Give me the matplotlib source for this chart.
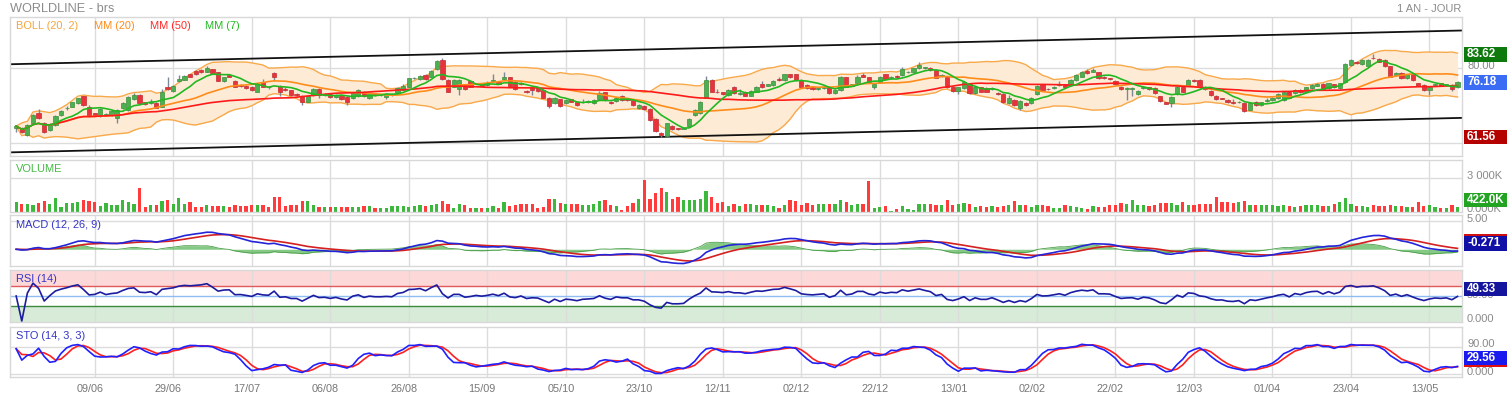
import numpy as np
import pandas as pd
import matplotlib
matplotlib.use("Agg")
import matplotlib.pyplot as plt
from matplotlib.patches import Rectangle

plt.rcParams['font.family'] = ['Liberation Sans', 'DejaVu Sans']

# ---------------- data ----------------
opens = [63.9,63.9,62.1,65.2,67.9,65.2,63.5,64.8,67.5,69.2,
 69.7,70.6,72.4,69.7,67.9,67.3,67.5,67.5,66.6,69.2,
 68.8,71.6,72.8,70.8,70.7,70.7,69.7,74.8,73.9,76.4,
 76.9,78.3,79.2,79.4,79.0,79.6,78.8,76.4,78.1,76.5,
 75.5,75.3,74.9,73.7,76.2,75.0,78.6,75.3,74.3,74.0,
 73.1,72.6,71.0,72.8,74.3,72.7,73.0,72.3,72.4,72.2,
 71.9,72.4,73.7,71.9,72.9,72.7,72.2,72.7,73.2,74.1,
 75.0,77.2,77.0,78.1,77.7,79.7,82.1,76.8,75.0,74.4,
 75.6,76.5,75.8,75.6,75.5,76.4,76.2,77.0,77.5,76.2,
 76.1,73.9,74.6,74.6,74.1,72.1,70.6,71.6,70.6,71.6,
 71.0,70.9,70.8,70.6,71.7,73.5,71.0,71.2,72.4,71.9,
 71.5,69.2,69.9,69.0,66.4,62.7,61.9,64.6,63.9,63.8,
 64.4,67.5,67.9,72.1,76.8,73.7,73.5,72.8,75.0,73.0,
 73.7,72.6,73.7,75.6,75.3,75.5,77.1,76.7,78.3,78.3,
 76.8,75.5,74.8,74.4,74.6,74.8,73.2,74.1,77.5,75.3,
 75.9,78.1,77.5,74.8,76.2,78.3,77.2,77.9,78.1,78.8,
 79.0,79.9,80.0,80.1,79.5,77.9,77.7,75.0,73.9,74.6,
 75.6,73.2,74.8,74.6,74.4,73.4,73.0,70.6,71.5,69.4,
 70.6,70.6,73.0,75.6,74.4,74.7,75.5,75.6,75.5,76.8,
 77.7,79.2,79.0,78.8,77.6,77.2,76.5,75.0,74.4,74.3,
 73.0,74.6,74.8,74.6,72.4,70.8,70.6,73.0,75.0,75.3,
 76.8,76.8,75.0,73.9,72.5,71.9,71.5,70.8,70.8,70.6,
 68.9,71.0,70.1,71.2,71.5,71.9,71.5,73.7,73.2,74.1,
 73.7,74.6,75.3,75.7,74.6,75.6,74.6,76.2,80.8,81.5,
 81.0,80.6,82.7,82.4,82.1,80.4,78.1,78.6,77.2,78.3,
 75.9,75.5,74.1,75.4,75.9,75.4,75.5,74.9]

closes = [64.5,62.8,64.8,67.5,66.6,62.8,64.8,67.2,68.4,69.4,
 70.8,71.9,70.0,67.2,67.5,69.1,67.7,68.4,68.8,70.6,
 72.3,72.8,70.6,70.4,71.0,69.4,73.7,74.5,75.2,77.0,
 77.9,77.7,78.3,78.8,80.1,78.6,76.6,77.5,77.7,75.0,
 75.1,74.6,74.0,75.6,75.0,74.8,77.5,73.7,74.0,72.8,
 72.8,70.8,72.5,74.4,72.8,73.0,72.2,72.8,71.7,71.0,
 73.2,74.1,72.4,73.2,72.8,72.8,73.0,72.8,74.6,75.2,
 77.2,77.4,77.9,77.0,79.3,81.9,77.1,73.7,76.8,76.8,
 74.4,75.0,75.9,75.3,75.9,76.8,75.8,77.7,75.0,74.4,
 75.6,73.6,74.1,73.9,72.1,69.9,72.1,69.9,71.5,71.0,
 70.1,71.0,71.2,71.5,73.2,71.5,70.6,72.1,71.5,71.5,
 70.1,70.1,69.1,66.1,63.2,62.1,65.2,63.7,63.7,63.9,
 66.4,68.8,71.0,76.8,73.7,73.5,73.1,74.1,73.2,73.2,
 72.6,73.9,75.0,74.8,75.6,76.5,76.7,78.3,77.6,76.8,
 75.0,74.6,74.4,74.7,75.0,73.2,74.1,77.7,75.0,75.6,
 77.7,77.7,76.2,75.6,77.7,77.0,77.7,77.5,79.7,79.0,
 79.9,80.8,80.1,79.5,77.4,78.1,74.8,73.9,74.8,76.2,
 73.2,75.0,73.7,73.7,74.7,73.0,70.8,71.9,70.1,71.2,
 70.1,72.1,75.3,74.1,74.3,75.0,75.8,74.8,76.8,78.1,
 79.0,78.6,79.5,77.2,77.2,77.0,75.6,74.3,74.6,74.7,
 73.8,74.8,74.4,73.2,71.2,70.5,72.3,75.0,73.7,76.8,
 76.4,74.8,74.3,72.8,71.7,71.8,70.8,70.6,71.0,68.6,
 70.6,70.1,70.8,71.5,72.1,73.0,73.5,72.1,74.1,73.5,
 74.8,75.5,75.7,74.4,75.9,74.8,75.9,81.0,82.1,81.3,
 82.1,82.1,82.6,81.7,80.4,77.7,78.6,77.2,78.3,76.8,
 75.3,74.1,75.0,75.6,75.3,75.6,74.4,76.18]

highs = [64.8,64.2,65.0,67.7,69.1,65.5,65.3,67.5,68.8,69.8,
 71.0,72.1,72.6,70.0,68.1,69.3,68.0,68.8,69.0,70.8,
 72.5,73.2,73.0,71.0,71.8,71.0,74.3,77.5,75.5,78.2,
 78.2,78.5,79.4,79.8,80.6,79.8,79.0,77.7,78.3,76.8,
 75.7,75.5,75.1,75.8,77.0,75.2,79.0,75.5,74.8,74.2,
 73.3,72.8,72.7,74.6,74.6,73.2,73.2,73.0,72.6,72.4,
 73.4,74.3,73.9,73.4,73.2,73.0,73.2,73.0,74.8,75.8,
 77.4,77.7,78.1,78.3,79.5,82.1,82.6,77.0,77.0,77.0,
 75.8,76.7,76.1,75.8,76.5,78.5,76.4,79.0,77.7,76.4,
 76.3,74.1,74.8,74.8,74.3,72.3,72.3,71.8,71.7,71.8,
 71.2,71.8,71.4,71.7,73.8,73.7,71.2,72.3,72.8,72.1,
 71.7,70.3,70.1,69.2,66.6,62.9,65.4,64.8,64.1,64.1,
 66.6,69.0,71.2,77.8,77.0,74.3,73.7,74.3,75.2,74.5,
 73.9,74.1,75.2,76.5,75.8,76.7,77.7,78.5,78.5,78.5,
 77.0,75.7,75.0,74.9,75.2,75.0,74.3,77.9,77.7,75.8,
 78.1,78.7,77.7,75.8,77.9,78.5,77.9,78.1,80.2,79.2,
 80.1,81.7,80.3,80.3,79.7,78.3,77.9,75.2,75.0,76.4,
 75.8,75.2,75.0,74.8,74.9,73.6,73.2,72.9,71.7,71.4,
 70.8,72.3,75.5,75.8,74.6,75.2,76.5,75.8,77.0,78.3,
 79.2,79.6,80.0,79.0,77.8,77.4,76.7,75.2,74.8,74.9,
 74.0,75.2,75.0,74.8,72.6,71.0,72.5,75.2,75.2,77.0,
 77.0,77.0,75.2,74.1,72.7,72.1,71.7,71.8,71.2,70.8,
 70.8,71.2,71.0,72.0,72.3,73.2,73.7,73.9,74.3,74.3,
 75.0,75.7,76.0,75.9,76.1,75.8,76.1,81.2,82.4,81.8,
 82.3,82.3,83.62,82.6,82.3,80.6,78.8,78.8,78.5,78.5,
 76.1,75.7,75.2,75.8,76.1,75.8,75.7,76.4]

lows = [63.0,62.6,61.9,65.0,66.4,62.6,63.2,64.5,67.3,68.8,
 69.5,70.4,69.8,67.0,67.2,67.0,67.3,67.3,65.3,69.0,
 68.6,71.4,70.4,70.2,70.5,69.2,69.5,74.0,73.7,76.2,
 76.7,77.5,78.1,78.6,78.8,78.4,76.4,76.2,77.5,74.8,
 74.9,74.4,73.8,73.5,74.8,74.5,76.5,72.5,73.8,72.6,
 72.6,70.0,70.8,72.6,72.0,72.5,72.0,72.1,71.5,70.2,
 71.7,72.2,72.2,71.7,72.6,72.5,71.6,72.5,73.0,74.0,
 74.8,77.0,76.8,76.8,77.5,79.5,76.9,73.5,74.8,72.8,
 74.2,74.8,75.6,75.1,75.3,76.2,75.6,76.8,74.8,74.2,
 75.4,73.4,72.8,73.7,71.9,69.3,70.4,69.7,70.4,70.8,
 69.9,70.7,70.6,70.4,71.5,71.3,70.4,71.0,71.3,71.3,
 69.9,69.0,68.9,65.9,63.0,61.56,61.7,63.5,63.5,63.6,
 64.2,67.3,67.7,71.9,73.5,73.3,72.9,72.6,73.0,72.8,
 72.4,72.4,73.5,74.6,75.1,75.3,76.5,76.5,77.4,76.6,
 74.8,74.4,74.2,74.2,74.4,73.0,73.0,73.9,74.8,75.1,
 75.7,77.5,76.0,74.3,76.0,76.8,77.0,77.3,77.9,78.6,
 78.8,79.7,79.8,79.3,77.2,77.7,74.6,73.7,73.0,74.4,
 73.0,73.0,73.5,73.5,74.2,72.8,70.6,70.4,69.9,68.8,
 69.9,70.4,72.8,73.9,74.1,74.5,75.3,74.6,75.3,76.6,
 77.5,78.4,78.8,77.0,77.0,76.8,75.4,74.1,71.5,72.5,
 72.8,74.4,74.2,73.0,71.0,70.3,69.6,72.8,73.5,75.1,
 76.2,74.6,74.1,72.6,71.5,71.6,70.6,70.4,70.6,68.3,
 68.7,69.9,69.9,71.0,71.3,71.7,71.3,71.9,73.0,73.3,
 73.5,74.4,75.1,74.2,74.4,74.6,74.4,76.0,80.6,81.0,
 80.8,80.4,82.3,81.5,80.2,77.5,77.9,77.0,77.0,76.6,
 75.1,73.9,72.8,75.2,75.1,75.2,73.9,74.7]

volumes_k = [900,750,750,600,810,960,750,1260,450,810,
 810,900,1050,990,900,540,810,660,600,1050,
 900,750,2100,450,660,660,990,1110,750,1260,
 750,900,450,450,600,510,510,540,450,600,
 540,510,600,600,600,450,1350,1350,540,660,
 600,960,960,600,450,450,450,450,450,450,
 450,450,540,510,360,360,360,510,540,510,
 450,510,600,510,660,750,990,690,390,690,
 600,390,360,360,360,540,390,
 900,540,660,690,690,690,360,450,1200,1140,
 840,690,750,750,600,600,690,960,1050,600,
 510,210,510,810,1200,2850,1140,1650,2160,1740,
 1140,1350,1050,1110,1050,1200,1860,1350,840,900,
 540,690,540,750,690,660,660,660,540,360,
 660,1050,990,660,810,600,750,690,690,690,
 1110,900,660,750,750,2760,390,450,510,60,
 300,510,300,150,750,750,750,600,600,1050,
 600,750,840,690,450,510,450,510,450,
 540,600,960,600,600,450,660,600,540,
 390,390,600,510,450,390,300,510,450,450,
 600,660,840,750,1050,660,600,540,600,840,
 840,840,660,900,660,600,750,690,750,1320,
 900,900,840,900,960,600,600,660,600,660,
 540,600,540,450,540,600,600,660,540,540,
 750,900,1260,750,540,540,450,600,540,540,
 600,540,540,450,450,900,540,660,450,390,
 390,600,422]

date_labels = ["09/06", "29/06", "17/07", "06/08", "26/08", "15/09", "05/10",
               "23/10", "12/11", "02/12", "22/12", "13/01", "02/02", "22/02",
               "12/03", "01/04", "23/04", "13/05"]
channel_upper = [81.0, 90.0]   # price at left / right edge
channel_lower = [57.5, 66.7]
last_macd = -0.271
last_rsi = 49.33
last_sto = 29.56

assert len(opens) == len(closes) == len(highs) == len(lows) == len(volumes_k), \
    (len(opens), len(closes), len(highs), len(lows), len(volumes_k))

# ---------------- indicators ----------------
n = len(closes)
x = np.arange(n)
o = np.array(opens); c = np.array(closes); h = np.array(highs); l = np.array(lows)
cs = pd.Series(c)
mm7 = cs.rolling(7, min_periods=1).mean()
mm20 = cs.rolling(20, min_periods=1).mean()
mm50 = cs.rolling(50, min_periods=1).mean()
sd20 = cs.rolling(20, min_periods=1).std(ddof=0).fillna(0)
bb_up = mm20 + 2 * sd20
bb_lo = mm20 - 2 * sd20
ema12 = cs.ewm(span=12, adjust=False).mean()
ema26 = cs.ewm(span=26, adjust=False).mean()
macd = ema12 - ema26
signal = macd.ewm(span=9, adjust=False).mean()
hist = macd - signal
delta = cs.diff()
gain = delta.clip(lower=0)
loss = (-delta).clip(lower=0)
ag = gain.ewm(alpha=1/14, adjust=True).mean()
al = loss.ewm(alpha=1/14, adjust=True).mean()
rsi = (100 * ag / (ag + al)).fillna(50)
hh = pd.Series(h).rolling(14, min_periods=1).max()
ll = pd.Series(l).rolling(14, min_periods=1).min()
rawk = 100 * (cs - ll) / (hh - ll)
stok = rawk.rolling(3, min_periods=1).mean()
stod = stok.rolling(3, min_periods=1).mean()

# ---------------- layout ----------------
W, H = 1507, 398
fig = plt.figure(figsize=(W / 100, H / 100), dpi=100)
fig.patch.set_facecolor('white')
XL = (-1.1, 257.8)
grid_c = '#dcdcdc'
tick_pos = [14 + 14 * k for k in range(len(date_labels))]


def add_panel(ytop, ybot, ylim):
    ax = fig.add_axes([10 / W, 1 - ybot / H, 1452 / W, (ybot - ytop) / H])
    ax.set_xlim(*XL)
    ax.set_ylim(*ylim)
    ax.set_xticks([]); ax.set_yticks([])
    for s in ax.spines.values():
        s.set_color('#d8d8d8'); s.set_linewidth(1)
    for t in tick_pos:
        ax.axvline(t, color=grid_c, lw=1, zorder=0.5)
    return ax


def fy(ax, v):
    return fig.transFigure.inverted().transform(ax.transData.transform((0, v)))[1]


def gray_label(ax, v, txt, dy=2.3):
    fig.text(1467 / W, fy(ax, v) + dy / H, txt, color='#8a8a8a', fontsize=8.0,
             va='center', ha='left', zorder=1)


def box_label(ax, v, txt, color, mode='center', line=None, hpx=14.5):
    yv = fy(ax, v)
    if mode == 'center':
        y0 = yv - hpx / 2 / H
    else:
        y0 = yv
    fig.patches.append(Rectangle((1464 / W, y0), 43 / W, hpx / H, transform=fig.transFigure,
                                 facecolor=color, edgecolor='none', zorder=5))
    if line == 'top':
        fig.patches.append(Rectangle((1464 / W, y0 + hpx / H), 43 / W, 2.2 / H,
                                     transform=fig.transFigure, facecolor='#d01010',
                                     edgecolor='none', zorder=5))
    elif line == 'bottom':
        fig.patches.append(Rectangle((1464 / W, y0 - 1.8 / H), 43 / W, 1.8 / H,
                                     transform=fig.transFigure, facecolor='#e01010',
                                     edgecolor='none', zorder=5))
    fig.text(1467 / W, y0 + hpx / 2 / H, txt, color='white', fontsize=8.4, fontweight='bold',
             va='center', ha='left', zorder=6)


# ---- price panel ----
axp = add_panel(17, 156, (56.53, 93.6))
for gv in (60, 80):
    axp.axhline(gv, color=grid_c, lw=1, zorder=0.5)
axp.fill_between(x, bb_lo, bb_up, color='#fdebd6', lw=0, zorder=1)
axp.plot(x, bb_up, color='#f8a94a', lw=1.0, zorder=2)
axp.plot(x, bb_lo, color='#f8a94a', lw=1.0, zorder=2)
axp.plot(XL, channel_upper, color='#111111', lw=1.3, zorder=2.5)
axp.plot(XL, channel_lower, color='#111111', lw=1.3, zorder=2.5)
up_mask = c >= o
cols = np.where(up_mask, '#4caf50', '#e8323c')
edges = np.where(up_mask, '#3b8f3e', '#c42a31')
axp.vlines(x, l, h, color='#7d8799', lw=1.0, zorder=3)
body_bot = np.minimum(o, c)
body_h = np.maximum(np.abs(c - o), 0.15)
axp.bar(x, body_h, bottom=body_bot, width=0.75, color=cols, edgecolor=edges, lw=0.5, zorder=3.5)
axp.plot(x, mm20, color='#ff8c1a', lw=1.2, zorder=4)
axp.plot(x, mm50, color='#ff1a1a', lw=1.2, zorder=4)
axp.plot(x, mm7, color='#22b822', lw=1.2, zorder=4)

leg = [("BOLL (20, 2)", '#f5a53c', 15.5), ("MM (20)", '#ff8c1a', 94), ("MM (50)", '#ff2a2a', 149.5),
       ("MM (7)", '#22bb22', 205)]
for txt, col, px in leg:
    fig.text(px / W, 1 - 25.7 / H, txt, color=col, fontsize=7.9, va='center', ha='left')

fig.text(10 / W, 1 - 9 / H, "WORLDLINE - brs", color='#8c8c8c', fontsize=9.2, va='center', ha='left')
fig.text(1461 / W, 1 - 9 / H, "1 AN - JOUR", color='#8c8c8c', fontsize=8.0, va='center', ha='right')

gray_label(axp, 80, "80.00")
box_label(axp, max(highs), f"{max(highs):.2f}", '#0e7a0e')
box_label(axp, closes[-1], f"{closes[-1]:.2f}", '#3b6cf4')
box_label(axp, min(lows), f"{min(lows):.2f}", '#b50000')

# ---- volume panel ----
axv = add_panel(160, 212, (0, 4630))
axv.axhline(3000, color=grid_c, lw=1, zorder=0.5)
vcols = np.where(up_mask, '#3cb83c', '#ff3b3b')
axv.bar(x, volumes_k, width=0.58, color=vcols, lw=0, zorder=2)
fig.text(15.5 / W, 1 - 169 / H, "VOLUME", color='#44bb44', fontsize=7.9, va='center', ha='left')
gray_label(axv, 3000, "3 000K")
gray_label(axv, 0, "0.000K", dy=3.3)
box_label(axv, volumes_k[-1], f"{volumes_k[-1]:.1f}K", '#22a322', mode='bottom')

# ---- MACD panel ----
axm = add_panel(215, 266, (-2.96, 6.06))
axm.axhline(5, color=grid_c, lw=1, zorder=0.5)
axm.fill_between(x, 0, hist, color='#5cb85c', alpha=0.75, lw=0, zorder=1)
axm.plot(x, hist, color='#4a9d4a', lw=0.6, zorder=1.2)
axm.plot(x, signal, color='#d42020', lw=1.2, zorder=2)
axm.plot(x, macd, color='#2424d8', lw=1.2, zorder=2.2)
fig.text(15.5 / W, 1 - 225 / H, "MACD (12, 26, 9)", color='#3535c8', fontsize=7.9, va='center', ha='left')
gray_label(axm, 5, "5.00")
box_label(axm, last_macd, f"{last_macd:.3f}", '#1010a6', mode='bottom', line='top', hpx=15)

# ---- RSI panel ----
axr = add_panel(270, 321.5, (-1, 102))
axr.axhspan(70, 102, color='#fdd8d8', lw=0, zorder=0.2)
axr.axhspan(-1, 30, color='#d8ebd8', lw=0, zorder=0.2)
axr.axhline(70, color='#e05a5a', lw=1, zorder=1)
axr.axhline(50, color='#8fbdf2', lw=1, zorder=1)
axr.axhline(30, color='#3d8a3d', lw=1, zorder=1)
axr.plot(x, rsi, color='#1c1ca0', lw=1.2, zorder=3)
fig.text(15.5 / W, 1 - 279 / H, "RSI (14)", color='#3535c8', fontsize=7.9, va='center', ha='left')
gray_label(axr, 50, "50.00", dy=1)
gray_label(axr, 0, "0.000", dy=2)
box_label(axr, last_rsi, f"{last_rsi:.2f}", '#14149c', mode='bottom')

# ---- STO panel ----
axs = add_panel(326.5, 376.7, (-7.8, 155.9))
axs.axhline(90, color=grid_c, lw=1, zorder=0.5)
axs.axhline(0, color=grid_c, lw=1, zorder=0.5)
axs.plot(x, stod, color='#ff2020', lw=1.2, zorder=2)
axs.plot(x, stok, color='#2020ff', lw=1.2, zorder=2.2)
fig.text(15.5 / W, 1 - 335.7 / H, "STO (14, 3, 3)", color='#3535c8', fontsize=7.9, va='center', ha='left')
gray_label(axs, 90, "90.00")
gray_label(axs, 0, "0.000")
box_label(axs, last_sto, f"{last_sto:.2f}", '#1a1aee', mode='bottom', line='bottom', hpx=14)

# ---- date labels ----
for t, lab in zip(tick_pos, date_labels):
    xf = fig.transFigure.inverted().transform(axs.transData.transform((t, 0)))[0] - 5 / W
    fig.text(xf, 1 - 389 / H, lab, color='#777777', fontsize=7.8, va='center', ha='center')

fig.savefig("out.png", dpi=100, facecolor='white')
